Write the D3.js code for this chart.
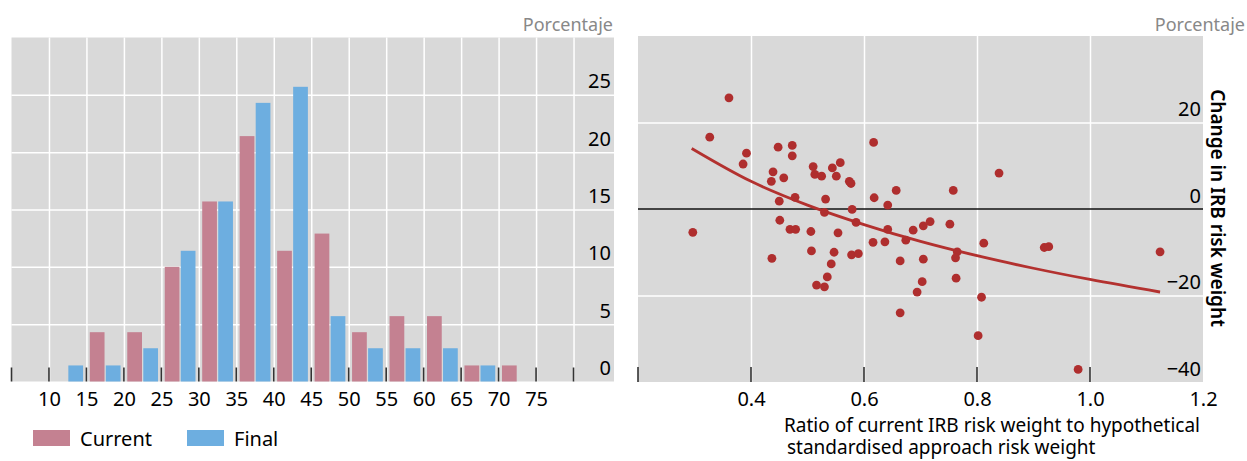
<!DOCTYPE html>
<html lang="en">
  <head>
    <meta charset="utf-8" />
    <style type="text/css">
      body {
        margin: 0;
        background: #fff;
      }
      svg text {
        font-family: "Noto Sans", "Open Sans", sans-serif;
      }
      .grid line {
        stroke: #fff;
        stroke-width: 1.5;
      }
      .grid .domain {
        display: none;
      }
      .ticklab .domain,
      .ticklab line {
        display: none;
      }
    </style>
  </head>
  <body>
    <svg width="1247" height="461"></svg>

    <script src="https://cdn.jsdelivr.net/npm/d3@7"></script>
    <script type="text/javascript">
      // left panel: histogram of banks by risk weight
      var binStarts = [10, 15, 20, 25, 30, 35, 40, 45, 50, 55, 60, 65, 70];
      var currentPct = [0, 4.3, 4.3, 10.0, 15.7, 21.4, 11.4, 12.9, 4.3, 5.7, 5.7, 1.4, 1.4];
      var finalPct = [1.4, 1.4, 2.9, 11.4, 15.7, 24.3, 25.7, 5.7, 2.9, 2.9, 2.9, 1.4, 0];
      var leftGridX = [10, 15, 20, 25, 30, 35, 40, 45, 50, 55, 60, 65, 70, 75, 80];
      var leftTickLabels = [10, 15, 20, 25, 30, 35, 40, 45, 50, 55, 60, 65, 70, 75];
      var leftYTicks = [0, 5, 10, 15, 20, 25];
      var seriesNames = ["Current", "Final"];
      var seriesColors = ["#c48191", "#6daee0"];

      // right panel: scatter of banks
      var ratioX = [
        0.361, 0.327, 0.392, 0.386, 0.448, 0.473, 0.473, 0.439, 0.436, 0.458,
        0.510, 0.513, 0.525, 0.544, 0.558, 0.551, 0.574, 0.577, 0.617, 0.618,
        0.478, 0.450, 0.532, 0.579, 0.530, 0.586, 0.451, 0.839, 0.657, 0.758,
        0.642, 0.642, 0.687, 0.705, 0.717, 0.752, 0.616, 0.637, 0.674, 0.664,
        0.705, 0.765, 0.762, 0.812, 0.919, 0.927, 0.703, 0.694, 0.763, 0.808,
        0.664, 0.802, 0.297, 0.469, 0.479, 0.506, 0.554, 0.437, 0.507, 0.547,
        0.578, 0.590, 0.542, 0.535, 0.516, 0.530, 1.124, 0.979
      ];
      var changeY = [
        25.7, 16.6, 12.9, 10.4, 14.3, 14.7, 12.3, 8.6, 6.4, 7.2,
        9.8, 8.0, 7.6, 9.5, 10.7, 7.6, 6.4, 5.9, 15.4, 2.6,
        2.7, 1.8, 2.3, -0.1, -0.8, -3.1, -2.6, 8.3, 4.3, 4.3,
        0.9, -4.7, -4.9, -3.9, -2.9, -3.5, -7.7, -7.6, -7.2, -12.0,
        -11.6, -9.9, -11.3, -7.9, -8.9, -8.7, -16.8, -19.2, -16.0, -20.4,
        -24.0, -29.3, -5.4, -4.7, -4.7, -5.2, -5.5, -11.4, -9.7, -10.0,
        -10.6, -10.3, -12.7, -15.7, -17.6, -18.0, -9.9, -37.1
      ];
      var trendX = [0.295, 0.4, 0.5, 0.6, 0.7, 0.8, 0.9, 1.0, 1.124];
      var trendY = [14.0, 6.4, 0.9, -3.6, -7.5, -10.8, -13.7, -16.3, -19.2];
      var rightXTicks = [0.4, 0.6, 0.8, 1.0, 1.2];
      var rightYTicks = [-40, -20, 0, 20];

      var svg = d3.select("svg");
      var bg = "#d9d9d9",
        tickCol = "#333";

      // ---------- left panel ----------
      var xL = d3.scaleLinear().domain([5, 85.4]).range([11.5, 614]);
      var yL = d3.scaleLinear().domain([0, 30]).range([381.5, 37.5]);
      var hL = yL(0) - yL(30);

      var left = svg.append("g");
      left
        .append("rect")
        .attr("x", xL(5))
        .attr("y", yL(30))
        .attr("width", xL(85.4) - xL(5))
        .attr("height", hL)
        .attr("fill", bg);

      left
        .append("g")
        .attr("class", "grid")
        .attr("transform", "translate(0," + yL(0) + ")")
        .call(d3.axisBottom(xL).tickValues(leftGridX).tickSize(-hL).tickFormat(""));
      left
        .append("g")
        .attr("class", "grid")
        .attr("transform", "translate(" + xL(5) + ",0)")
        .call(
          d3.axisLeft(yL).tickValues(leftYTicks.slice(1)).tickSize(-(xL(85.4) - xL(5))).tickFormat("")
        );

      var pair = d3
        .scaleBand()
        .domain(seriesNames)
        .range([0, xL(15) - xL(10)])
        .paddingInner(0.08)
        .paddingOuter(0.21);

      var rows = binStarts.map(function (b, i) {
        return { lo: b, vals: [currentPct[i], finalPct[i]] };
      });
      var bins = left
        .selectAll(".bin")
        .data(rows)
        .enter()
        .append("g")
        .attr("transform", function (d) {
          return "translate(" + xL(d.lo) + ",0)";
        });
      bins
        .selectAll("rect")
        .data(function (d) {
          return d.vals.map(function (v, j) {
            return { s: seriesNames[j], v: v, c: seriesColors[j] };
          });
        })
        .enter()
        .filter(function (d) {
          return d.v > 0;
        })
        .append("rect")
        .attr("x", function (d) {
          return pair(d.s);
        })
        .attr("width", pair.bandwidth())
        .attr("y", function (d) {
          return yL(d.v);
        })
        .attr("height", function (d) {
          return yL(0) - yL(d.v);
        })
        .attr("fill", function (d) {
          return d.c;
        });

      // small inner ticks at the bottom
      left
        .append("g")
        .selectAll("line")
        .data([5].concat(leftGridX))
        .enter()
        .append("line")
        .attr("x1", function (d) {
          return xL(d);
        })
        .attr("x2", function (d) {
          return xL(d);
        })
        .attr("y1", yL(0) - 14)
        .attr("y2", yL(0))
        .attr("stroke", tickCol)
        .attr("stroke-width", 1.6);

      left
        .append("g")
        .attr("class", "ticklab")
        .attr("transform", "translate(0," + yL(0) + ")")
        .call(d3.axisBottom(xL).tickValues(leftTickLabels).tickSize(0).tickPadding(10))
        .selectAll("text")
        .attr("font-size", 20)
        .attr("fill", "#000");

      left
        .append("g")
        .attr("class", "ticklab")
        .attr("transform", "translate(" + 611 + ",0)")
        .call(d3.axisLeft(yL).tickValues(leftYTicks).tickSize(0).tickPadding(0))
        .selectAll("text")
        .attr("font-size", 20)
        .attr("fill", "#000")
        .attr("dy", "-0.35em");

      left
        .append("text")
        .attr("x", 613)
        .attr("y", 31)
        .attr("text-anchor", "end")
        .attr("font-size", 18)
        .attr("fill", "#888")
        .text("Porcentaje");

      // legend
      var leg = left
        .selectAll(".leg")
        .data(seriesNames)
        .enter()
        .append("g")
        .attr("transform", function (d, i) {
          return "translate(" + (33 + i * 154) + ",430)";
        });
      leg
        .append("rect")
        .attr("width", 37)
        .attr("height", 16)
        .attr("fill", function (d, i) {
          return seriesColors[i];
        });
      leg
        .append("text")
        .attr("x", 47)
        .attr("y", 15.5)
        .attr("font-size", 20)
        .text(function (d) {
          return d;
        });

      // ---------- right panel ----------
      var xR = d3.scaleLinear().domain([0.2, 1.2]).range([638, 1203]);
      var yR = d3.scaleLinear().domain([-40, 40]).range([382, 36]);
      var hR = yR(-40) - yR(40),
        wR = xR(1.2) - xR(0.2);

      var right = svg.append("g");
      right
        .append("rect")
        .attr("x", xR(0.2))
        .attr("y", yR(40))
        .attr("width", wR)
        .attr("height", hR)
        .attr("fill", bg);

      right
        .append("g")
        .attr("class", "grid")
        .attr("transform", "translate(0," + yR(-40) + ")")
        .call(d3.axisBottom(xR).tickValues([0.4, 0.6, 0.8, 1.0]).tickSize(-hR).tickFormat(""));
      right
        .append("g")
        .attr("class", "grid")
        .attr("transform", "translate(" + xR(0.2) + ",0)")
        .call(d3.axisLeft(yR).tickValues([-20, 20]).tickSize(-wR).tickFormat(""));

      right
        .append("line")
        .attr("x1", xR(0.2))
        .attr("x2", xR(1.2))
        .attr("y1", yR(0))
        .attr("y2", yR(0))
        .attr("stroke", "#111")
        .attr("stroke-width", 1.3);

      right
        .append("g")
        .selectAll("line")
        .data([0.2, 0.4, 0.6, 0.8, 1.0])
        .enter()
        .append("line")
        .attr("x1", function (d) {
          return xR(d);
        })
        .attr("x2", function (d) {
          return xR(d);
        })
        .attr("y1", yR(-40) - 15)
        .attr("y2", yR(-40))
        .attr("stroke", tickCol)
        .attr("stroke-width", 1.6);

      var line = d3
        .line()
        .x(function (d) {
          return xR(d[0]);
        })
        .y(function (d) {
          return yR(d[1]);
        })
        .curve(d3.curveMonotoneX);
      right
        .append("path")
        .datum(d3.zip(trendX, trendY))
        .attr("d", line)
        .attr("fill", "none")
        .attr("stroke", "#b3312f")
        .attr("stroke-width", 2.8);

      right
        .append("g")
        .selectAll("circle")
        .data(d3.zip(ratioX, changeY))
        .enter()
        .append("circle")
        .attr("cx", function (d) {
          return xR(d[0]);
        })
        .attr("cy", function (d) {
          return yR(d[1]);
        })
        .attr("r", 4.4)
        .attr("fill", "#af2e2e");

      right
        .append("g")
        .attr("class", "ticklab")
        .attr("transform", "translate(0," + yR(-40) + ")")
        .call(
          d3.axisBottom(xR).tickValues(rightXTicks).tickSize(0).tickPadding(10).tickFormat(d3.format(".1f"))
        )
        .selectAll("text")
        .attr("font-size", 20)
        .attr("fill", "#000");

      right
        .append("g")
        .attr("class", "ticklab")
        .attr("transform", "translate(" + 1201 + ",0)")
        .call(d3.axisLeft(yR).tickValues(rightYTicks).tickSize(0).tickPadding(0))
        .selectAll("text")
        .attr("font-size", 20)
        .attr("fill", "#000")
        .attr("dy", "-0.35em");

      right
        .append("text")
        .attr("x", 1245)
        .attr("y", 31)
        .attr("text-anchor", "end")
        .attr("font-size", 18)
        .attr("fill", "#888")
        .text("Porcentaje");

      right
        .append("text")
        .attr("transform", "translate(1218,208) rotate(90)")
        .attr("text-anchor", "middle")
        .attr("dominant-baseline", "central")
        .attr("font-size", 19)
        .attr("font-weight", 600)
        .text("Change in IRB risk weight");

      var xt = right
        .append("text")
        .attr("x", 784)
        .attr("y", 432)
        .attr("font-size", 19);
      xt.append("tspan").attr("x", 784).text("Ratio of current IRB risk weight to hypothetical");
      xt.append("tspan").attr("x", 787).attr("dy", 22).text("standardised approach risk weight");
    </script>
  </body>
</html>
